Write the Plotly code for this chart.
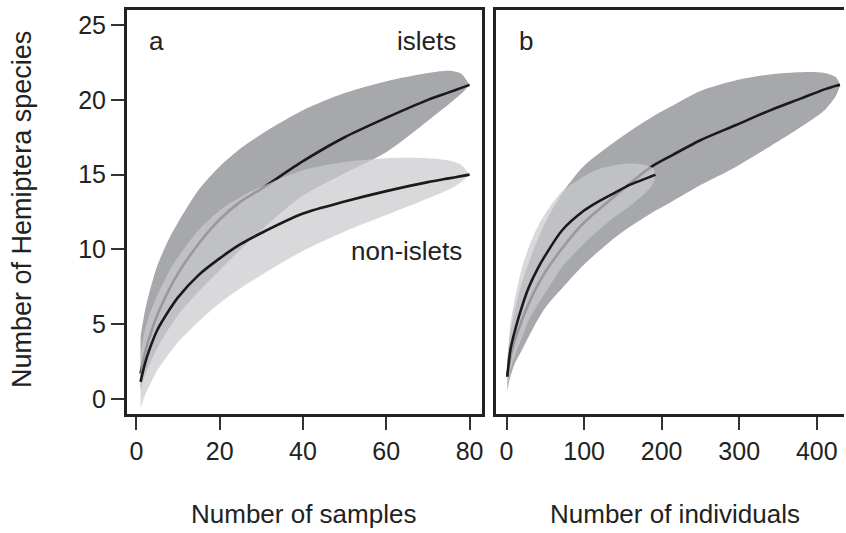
import plotly.graph_objects as go

# ---------- Panel a: samples ----------
a_x = [1, 2, 3, 5, 8, 10, 15, 20, 25, 30, 40, 50, 60, 70, 75, 78, 80]
isl_a_mean = [1.7, 3.0, 4.0, 5.6, 7.4, 8.4, 10.4, 12.0, 13.2, 14.05, 15.9, 17.5, 18.8, 20.0, 20.5, 20.8, 21.0]
isl_a_upper = [4.2, 5.8, 7.0, 8.9, 10.8, 11.8, 14.0, 15.55, 16.75, 17.7, 19.3, 20.45, 21.25, 21.8, 21.95, 21.75, 21.0]
isl_a_lower = [0.6, 1.5, 2.2, 3.4, 4.8, 5.6, 7.2, 8.6, 10.0, 11.3, 13.6, 15.1, 16.5, 18.6, 19.7, 20.4, 21.0]
non_a_mean = [1.15, 2.3, 3.2, 4.6, 6.0, 6.8, 8.3, 9.4, 10.35, 11.1, 12.4, 13.2, 13.9, 14.5, 14.75, 14.9, 15.0]
non_a_upper = [3.0, 4.5, 5.5, 6.9, 8.6, 9.5, 11.3, 12.6, 13.5, 14.2, 15.3, 15.85, 16.1, 16.1, 15.95, 15.65, 15.0]
non_a_lower = [-0.6, 0.2, 0.8, 1.9, 3.1, 3.8, 5.2, 6.4, 7.4, 8.3, 9.9, 11.2, 12.3, 13.4, 14.0, 14.5, 15.0]

# ---------- Panel b: individuals ----------
isl_b_x = [1, 5, 10, 20, 35, 50, 75, 100, 145, 186, 210, 250, 295, 340, 380, 410, 425, 430]
isl_b_mean = [1.5, 2.8, 3.8, 5.3, 7.1, 8.5, 10.3, 11.8, 13.8, 15.5, 16.2, 17.3, 18.3, 19.3, 20.1, 20.7, 20.95, 21.0]
isl_b_upper = [2.5, 4.5, 5.8, 7.8, 10.0, 11.8, 14.0, 15.6, 17.4, 18.8, 19.5, 20.6, 21.3, 21.7, 21.85, 21.8, 21.5, 21.0]
isl_b_lower = [0.6, 1.5, 2.3, 3.3, 4.8, 6.1, 7.6, 9.0, 11.0, 12.4, 13.1, 14.3, 15.5, 16.9, 18.2, 19.3, 20.3, 21.0]

non_b_x = [1, 5, 12, 20, 29, 40, 50, 72, 100, 115, 140, 158, 175, 185, 190, 192]
non_b_mean = [1.5, 3.3, 4.8, 6.2, 7.5, 8.7, 9.6, 11.3, 12.6, 13.1, 13.8, 14.3, 14.65, 14.85, 14.95, 15.0]
non_b_upper = [2.5, 5.0, 7.0, 8.8, 10.2, 11.5, 12.4, 13.9, 14.9, 15.3, 15.65, 15.75, 15.7, 15.55, 15.35, 15.0]
non_b_lower = [0.5, 1.9, 3.1, 4.1, 5.3, 6.3, 7.1, 8.85, 10.4, 11.1, 12.2, 12.85, 13.6, 14.1, 14.5, 15.0]

x_ticks_a = [0, 20, 40, 60, 80]
x_ticks_b = [0, 100, 200, 300, 400]
y_ticks = [0, 5, 10, 15, 20, 25]

DARK = "rgb(167,168,172)"
LIGHT = "rgba(202,203,206,0.72)"
LINE = "#1a1a1a"
FONT = "Liberation Sans, Arial, sans-serif"
TXT = "#222222"

fig = go.Figure()


def band(x, lo, hi, color, xa, ya):
    fig.add_trace(go.Scatter(
        x=list(x) + list(x)[::-1], y=list(hi) + list(lo)[::-1],
        fill="toself", fillcolor=color, mode="lines",
        line=dict(width=0, shape="spline", smoothing=0.8),
        hoverinfo="skip", showlegend=False, xaxis=xa, yaxis=ya))


def curve(x, y, xa, ya):
    fig.add_trace(go.Scatter(
        x=x, y=y, mode="lines", line=dict(color=LINE, width=2.6, shape="spline", smoothing=0.8),
        showlegend=False, xaxis=xa, yaxis=ya))


band(a_x, isl_a_lower, isl_a_upper, DARK, "x", "y")
curve(a_x, isl_a_mean, "x", "y")
band(a_x, non_a_lower, non_a_upper, LIGHT, "x", "y")
curve(a_x, non_a_mean, "x", "y")

band(isl_b_x, isl_b_lower, isl_b_upper, DARK, "x2", "y2")
curve(isl_b_x, isl_b_mean, "x2", "y2")
band(non_b_x, non_b_lower, non_b_upper, LIGHT, "x2", "y2")
curve(non_b_x, non_b_mean, "x2", "y2")

W, H = 846, 533
ydom = [(H - 414) / H, (H - 9.5) / H]
common_x = dict(showgrid=False, zeroline=False, showline=True, linecolor="#222", linewidth=2.5,
                mirror=True, ticks="outside", ticklen=13, tickwidth=1.5, tickcolor="#333",
                tickfont=dict(family=FONT, size=25, color=TXT))

fig.update_layout(
    width=W, height=H, margin=dict(l=0, r=0, t=0, b=0),
    paper_bgcolor="white", plot_bgcolor="white",
    xaxis=dict(domain=[127 / W, 483 / W], range=[-2.32, 82.95], tickvals=x_ticks_a,
               anchor="y", **common_x),
    xaxis2=dict(domain=[497 / W, 1.0], range=[-13.8, 435.1], tickvals=x_ticks_b,
                anchor="y2", **common_x),
    yaxis=dict(domain=ydom, range=[-1.0, 26.04], tickvals=y_ticks, showgrid=False, zeroline=False,
               showline=True, linecolor="#222", linewidth=2.5, mirror=True,
               ticks="outside", ticklen=13, tickwidth=1.5, tickcolor="#333",
               tickfont=dict(family=FONT, size=25, color=TXT), anchor="x"),
    yaxis2=dict(domain=ydom, range=[-1.0, 26.04], showgrid=False, zeroline=False,
                showline=True, linecolor="#222", linewidth=2.5, mirror=False,
                showticklabels=False, ticks="", anchor="x2"),
)


def label(text, px, py, size=26, angle=0):
    fig.add_annotation(text=text, x=px / W, y=1 - py / H, xref="paper", yref="paper",
                       showarrow=False, textangle=angle, xanchor="center", yanchor="middle",
                       font=dict(family=FONT, size=size, color=TXT))


label("a", 157, 41)
label("b", 527, 41)
label("islets", 428, 41)
label("non-islets", 407, 251)
label("Number of samples", 304, 514)
label("Number of individuals", 677, 514)
label("Number of Hemiptera species", 22, 209, size=27, angle=-90)

fig.write_html("out.html", config={"displayModeBar": False},
               post_script="document.body.style.margin='0';document.body.style.overflow='hidden';")
